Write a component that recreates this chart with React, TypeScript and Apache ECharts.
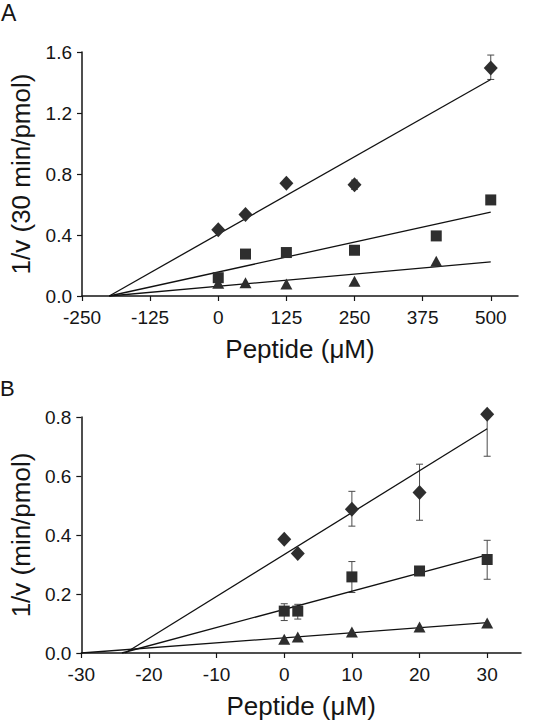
import React, { useEffect, useRef } from "react";
import * as echarts from "echarts";

// Panel A data
const aTicksX = [-250, -125, 0, 125, 250, 375, 500];
const aDiamondX = [0, 50, 125, 250, 500];
const aDiamondY = [0.435, 0.535, 0.74, 0.73, 1.495];
const aDiamondErr = [[250, 0.7, 0.76], [500, 1.42, 1.58]];
const aSquareX = [0, 50, 125, 250, 400, 500];
const aSquareY = [0.12, 0.275, 0.285, 0.3, 0.394, 0.63];
const aSquareErr = [[500, 0.61, 0.65]];
const aTriX = [0, 50, 125, 250, 400];
const aTriY = [0.083, 0.087, 0.079, 0.097, 0.228];
const aFitDiamond = [[-200, 0], [500, 1.42]];
const aFitSquare = [[-200, 0], [500, 0.55]];
const aFitTri = [[-200, 0], [500, 0.224]];

// Panel B data
const bTicksX = [-30, -20, -10, 0, 10, 20, 30];
const bDiamondX = [0, 2, 10, 20, 30];
const bDiamondY = [0.386, 0.337, 0.487, 0.544, 0.809];
const bDiamondErr = [[10, 0.43, 0.548], [20, 0.45, 0.64], [30, 0.667, 0.82]];
const bSquareX = [0, 2, 10, 20, 30];
const bSquareY = [0.142, 0.142, 0.258, 0.278, 0.317];
const bSquareErr = [[0, 0.11, 0.167], [2, 0.115, 0.165], [10, 0.205, 0.31], [20, 0.27, 0.285], [30, 0.25, 0.382]];
const bTriX = [0, 2, 10, 20, 30];
const bTriY = [0.047, 0.054, 0.071, 0.088, 0.102];
const bFitDiamond = [[-23.5, 0], [30, 0.76]];
const bFitSquare = [[-24, 0], [30, 0.333]];
const bFitTri = [[-30, 0], [30, 0.103]];

const FONT = "'Liberation Sans', Arial, sans-serif";
const MARK = "#2e2e2e";
const INK = "#151515";

const zip = (xs: number[], ys: number[]) => xs.map((x, i) => [x, ys[i]]);

function errSeries(data: number[][], idx: number) {
  return {
    type: "custom",
    xAxisIndex: idx,
    yAxisIndex: idx,
    clip: false,
    z: 1,
    encode: { x: 0, y: [1, 2] },
    data,
    renderItem: (params: any, api: any) => {
      const x = api.value(0);
      const p1 = api.coord([x, api.value(1)]);
      const p2 = api.coord([x, api.value(2)]);
      const w = 3.5;
      const style = { stroke: "#4a4a4a", lineWidth: 1 };
      return {
        type: "group",
        children: [
          { type: "line", shape: { x1: p1[0], y1: p1[1], x2: p2[0], y2: p2[1] }, style },
          { type: "line", shape: { x1: p1[0] - w, y1: p1[1], x2: p1[0] + w, y2: p1[1] }, style },
          { type: "line", shape: { x1: p2[0] - w, y1: p2[1], x2: p2[0] + w, y2: p2[1] }, style },
        ],
      };
    },
  };
}

function scatter(data: number[][], idx: number, symbol: string, size: any) {
  return {
    type: "scatter",
    xAxisIndex: idx,
    yAxisIndex: idx,
    symbol,
    symbolSize: size,
    clip: false,
    z: 3,
    itemStyle: { color: MARK, opacity: 1 },
    data,
  };
}

function fit(data: number[][], idx: number) {
  return {
    type: "line",
    xAxisIndex: idx,
    yAxisIndex: idx,
    symbol: "none",
    z: 2,
    lineStyle: { color: "#111", width: 1.3 },
    data,
  };
}

function xAxis(idx: number, min: number, max: number, interval: number, ticks: number[]) {
  return {
    type: "value",
    gridIndex: idx,
    min,
    max,
    interval,
    name: "Peptide (μM)",
    nameLocation: "middle",
    nameGap: 40,
    nameTextStyle: { fontFamily: FONT, fontSize: 26, color: INK },
    axisLine: { onZero: false, lineStyle: { color: INK, width: 1.5 } },
    axisTick: { show: true, length: 5, lineStyle: { color: INK, width: 1.2 }, customValues: ticks },
    axisLabel: { fontFamily: FONT, fontSize: 19, color: INK, margin: 12, customValues: ticks },
    splitLine: { show: false },
  };
}

function yAxis(idx: number, max: number, interval: number, name: string, gap: number) {
  return {
    type: "value",
    gridIndex: idx,
    min: 0,
    max,
    interval,
    name,
    nameLocation: "middle",
    nameGap: gap,
    nameTextStyle: { fontFamily: FONT, fontSize: 26, color: INK },
    axisLine: { show: true, onZero: false, lineStyle: { color: INK, width: 1.5 } },
    axisTick: { show: true, length: 5, lineStyle: { color: INK, width: 1.2 } },
    axisLabel: {
      fontFamily: FONT,
      fontSize: 19,
      color: INK,
      margin: 10,
      formatter: (v: number) => v.toFixed(1),
    },
    splitLine: { show: false },
  };
}

export default function App() {
  const ref = useRef<HTMLDivElement>(null);
  useEffect(() => {
    if (!ref.current) return;
    const chart = echarts.init(ref.current, undefined, { renderer: "svg" });
    chart.setOption({
      animation: false,
      backgroundColor: "#fff",
      grid: [
        { left: 82, top: 52, width: 436, height: 244 },
        { left: 81, top: 417, width: 440, height: 236 },
      ],
      xAxis: [
        xAxis(0, -250, 550, 125, aTicksX),
        xAxis(1, -30, 35, 10, bTicksX),
      ],
      yAxis: [
        yAxis(0, 1.6, 0.4, "1/v (30 min/pmol)", 48),
        yAxis(1, 0.8, 0.2, "1/v (min/pmol)", 47),
      ],
      graphic: [
        { type: "text", left: 1, top: 1, style: { text: "A", fontFamily: FONT, fontSize: 23, fill: INK } },
        { type: "text", left: 0, top: 377, style: { text: "B", fontFamily: FONT, fontSize: 22, fill: INK } },
      ],
      series: [
        fit(aFitDiamond, 0),
        fit(aFitSquare, 0),
        fit(aFitTri, 0),
        errSeries(aDiamondErr, 0),
        errSeries(aSquareErr, 0),
        scatter(zip(aDiamondX, aDiamondY), 0, "diamond", [14, 15]),
        scatter(zip(aSquareX, aSquareY), 0, "rect", 11),
        scatter(zip(aTriX, aTriY), 0, "triangle", [12, 11]),
        fit(bFitDiamond, 1),
        fit(bFitSquare, 1),
        fit(bFitTri, 1),
        errSeries(bDiamondErr, 1),
        errSeries(bSquareErr, 1),
        scatter(zip(bDiamondX, bDiamondY), 1, "diamond", [14, 15]),
        scatter(zip(bSquareX, bSquareY), 1, "rect", 11),
        scatter(zip(bTriX, bTriY), 1, "triangle", [12, 11]),
      ],
    });
    return () => chart.dispose();
  }, []);
  return (
    <div
      ref={ref}
      style={{ position: "fixed", left: 0, top: 0, width: 541, height: 726, background: "#fff" }}
    />
  );
}
